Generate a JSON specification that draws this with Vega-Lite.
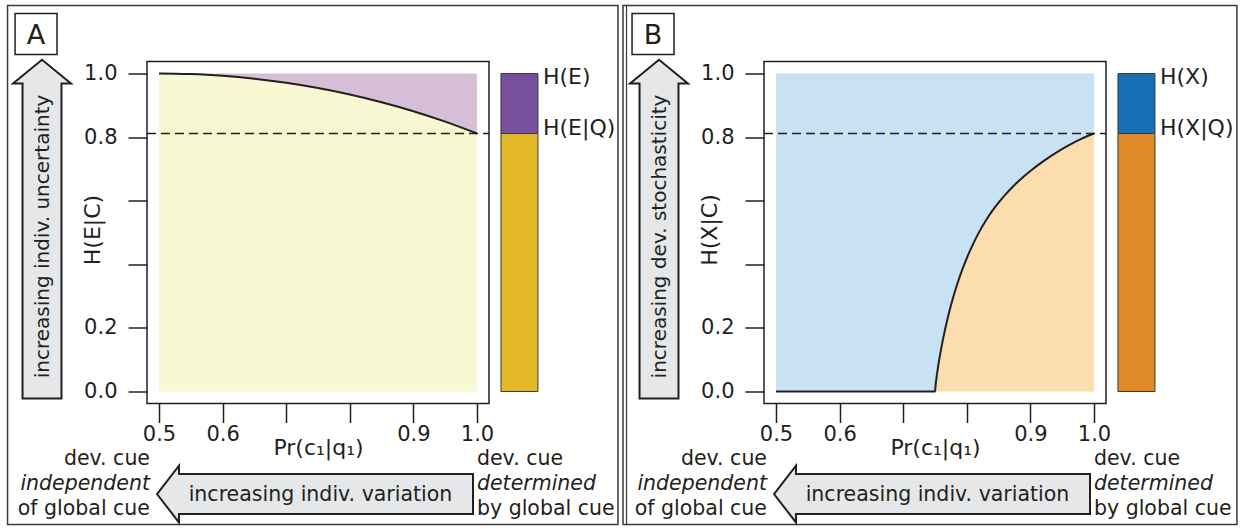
{
  "$schema": "https://vega.github.io/schema/vega-lite/v6.json",
  "background": "white",
  "padding": {"left": 6, "top": 3.5, "right": 0, "bottom": 0},
  "autosize": {"type": "pad"},
  "bounds": "flush",
  "spacing": 275,
  "datasets": {
    "curveA": [
      {"p": 0.5, "h": 1.0}, {"p": 0.525, "h": 0.9995}, {"p": 0.55, "h": 0.9982}, {"p": 0.575, "h": 0.9959},
      {"p": 0.6, "h": 0.9928}, {"p": 0.65, "h": 0.9837}, {"p": 0.7, "h": 0.971}, {"p": 0.75, "h": 0.9544},
      {"p": 0.8, "h": 0.9341}, {"p": 0.85, "h": 0.9097}, {"p": 0.9, "h": 0.8813}, {"p": 0.95, "h": 0.8485},
      {"p": 1.0, "h": 0.8113}
    ],
    "curveB": [
      {"p": 0.5, "h": 0}, {"p": 0.6, "h": 0}, {"p": 0.7, "h": 0}, {"p": 0.75, "h": 0},
      {"p": 0.751, "h": 0.0208}, {"p": 0.7525, "h": 0.0451}, {"p": 0.755, "h": 0.0798}, {"p": 0.7575, "h": 0.1103},
      {"p": 0.76, "h": 0.1381}, {"p": 0.765, "h": 0.1876}, {"p": 0.77, "h": 0.2312}, {"p": 0.775, "h": 0.2703},
      {"p": 0.78, "h": 0.3056}, {"p": 0.79, "h": 0.3674}, {"p": 0.8, "h": 0.4196}, {"p": 0.81, "h": 0.4644},
      {"p": 0.82, "h": 0.5035}, {"p": 0.83, "h": 0.5378}, {"p": 0.84, "h": 0.5678}, {"p": 0.85, "h": 0.594},
      {"p": 0.86, "h": 0.6174}, {"p": 0.875, "h": 0.6491}, {"p": 0.89, "h": 0.6769}, {"p": 0.9, "h": 0.6936},
      {"p": 0.92, "h": 0.7236}, {"p": 0.94, "h": 0.7503}, {"p": 0.96, "h": 0.774}, {"p": 0.98, "h": 0.7945},
      {"p": 1.0, "h": 0.8113}
    ],
    "one": [{}]
  },
  "hconcat": [
    {
      "width": 342,
      "height": 342,
      "layer": [
        {
          "data": {"name": "curveA"},
          "mark": {"type": "area", "color": "#F8F8D3", "interpolate": "monotone", "clip": false},
          "encoding": {
            "x": {"field": "p", "type": "quantitative", "scale": {"domain": [0.4811, 1.0189], "nice": false, "zero": false},
                  "axis": {"values": [0.5, 0.6, 0.7, 0.8, 0.9, 1.0], "labelExpr": "datum.value > 0.65 && datum.value < 0.85 ? '' : format(datum.value, '.1f')", "title": "Pr(c₁|q₁)"}},
            "y": {"field": "h", "type": "quantitative", "scale": {"domain": [-0.0377, 1.0377], "nice": false, "zero": false},
                  "axis": {"values": [0, 0.2, 0.4, 0.6, 0.8, 1.0], "labelExpr": "datum.value > 0.3 && datum.value < 0.7 ? '' : format(datum.value, '.1f')", "title": "H(E|C)"}},
            "y2": {"datum": 0}
          }
        },
        {
          "data": {"name": "curveA"},
          "mark": {"type": "area", "color": "#D7BED7", "interpolate": "monotone", "clip": false},
          "encoding": {"x": {"field": "p", "type": "quantitative"}, "y": {"field": "h", "type": "quantitative"}, "y2": {"datum": 1.0}}
        },
        {
          "data": {"name": "curveA"},
          "mark": {"type": "line", "color": "#231F20", "strokeWidth": 2, "interpolate": "monotone", "clip": false},
          "encoding": {"x": {"field": "p", "type": "quantitative"}, "y": {"field": "h", "type": "quantitative"}}
        },
        {
          "data": {"name": "one"},
          "mark": {"type": "rule", "color": "#231F20", "strokeWidth": 1.5, "strokeDash": [9, 5], "clip": false},
          "encoding": {"x": {"datum": 0.4811}, "x2": {"datum": 1.0189}, "y": {"datum": 0.8113}}
        },
        {
          "data": {"name": "one"},
          "mark": {"type": "rect", "color": "#E2B828", "stroke": "#3A3A3A", "strokeWidth": 1, "clip": false},
          "encoding": {"x": {"datum": 1.0377}, "x2": {"datum": 1.0959}, "y": {"datum": 0}, "y2": {"datum": 0.8113}}
        },
        {
          "data": {"name": "one"},
          "mark": {"type": "rect", "color": "#784F9D", "stroke": "#3A3A3A", "strokeWidth": 1, "clip": false},
          "encoding": {"x": {"datum": 1.0377}, "x2": {"datum": 1.0959}, "y": {"datum": 0.8113}, "y2": {"datum": 1.0}}
        },
        {
          "data": {"name": "one"},
          "mark": {"type": "text", "text": "H(E)", "align": "left", "baseline": "alphabetic", "fontSize": 22, "clip": false},
          "encoding": {"x": {"datum": 1.1038}, "y": {"datum": 0.9685}}
        },
        {
          "data": {"name": "one"},
          "mark": {"type": "text", "text": "H(E|Q)", "align": "left", "baseline": "alphabetic", "fontSize": 22, "clip": false},
          "encoding": {"x": {"datum": 1.1038}, "y": {"datum": 0.8081}}
        },
        {
          "data": {"name": "one"},
          "mark": {"type": "point", "shape": "M0,-1 L0.171,-0.86 L0.115,-0.86 L0.115,1 L-0.115,1 L-0.115,-0.86 L-0.171,-0.86 Z", "size": 114718, "filled": true, "fill": "#E6E7E8", "stroke": "#231F20", "strokeWidth": 2, "opacity": 1, "clip": false},
          "encoding": {"x": {"datum": 0.316}, "y": {"datum": 0.5105}}
        },
        {
          "data": {"name": "one"},
          "mark": {"type": "text", "text": "increasing indiv. uncertainty", "angle": 270, "align": "center", "baseline": "middle", "fontSize": 20, "clip": false},
          "encoding": {"x": {"datum": 0.3172}, "y": {"datum": 0.4874}}
        },
        {
          "data": {"name": "one"},
          "mark": {"type": "point", "shape": "M-1,0 L-0.861,-0.18 L-0.861,-0.127 L1,-0.127 L1,0.127 L-0.861,0.127 L-0.861,0.18 Z", "size": 99856, "filled": true, "fill": "#E6E7E8", "stroke": "#231F20", "strokeWidth": 2, "opacity": 1, "clip": false},
          "encoding": {"x": {"datum": 0.7453}, "y": {"datum": -0.3224}}
        },
        {
          "data": {"name": "one"},
          "mark": {"type": "text", "text": "increasing indiv. variation", "align": "center", "baseline": "alphabetic", "fontSize": 20.5, "clip": false},
          "encoding": {"x": {"datum": 0.7539}, "y": {"datum": -0.3428}}
        },
        {
          "data": {"name": "one"},
          "mark": {"type": "rect", "color": "white", "stroke": "#231F20", "strokeWidth": 1.5, "clip": false},
          "encoding": {"x": {"datum": 0.2736}, "x2": {"datum": 0.3396}, "y": {"datum": 1.0597}, "y2": {"datum": 1.1887}}
        },
        {
          "data": {"name": "one"},
          "mark": {"type": "text", "text": "A", "align": "center", "baseline": "middle", "fontSize": 27, "clip": false},
          "encoding": {"x": {"datum": 0.3066}, "y": {"datum": 1.1187}}
        },
        {
          "data": {"name": "one"},
          "mark": {"type": "text", "text": "dev. cue", "align": "right", "baseline": "alphabetic", "fontSize": 20.5, "clip": false},
          "encoding": {"x": {"datum": 0.4858}, "y": {"datum": -0.2296}}
        },
        {
          "data": {"name": "one"},
          "mark": {"type": "text", "text": "independent", "align": "right", "baseline": "alphabetic", "fontSize": 20.5, "fontStyle": "italic", "clip": false},
          "encoding": {"x": {"datum": 0.4858}, "y": {"datum": -0.3082}}
        },
        {
          "data": {"name": "one"},
          "mark": {"type": "text", "text": "of global cue", "align": "right", "baseline": "alphabetic", "fontSize": 20.5, "clip": false},
          "encoding": {"x": {"datum": 0.4858}, "y": {"datum": -0.3868}}
        },
        {
          "data": {"name": "one"},
          "mark": {"type": "text", "text": "dev. cue", "align": "left", "baseline": "alphabetic", "fontSize": 20.5, "clip": false},
          "encoding": {"x": {"datum": 1.0}, "y": {"datum": -0.2296}}
        },
        {
          "data": {"name": "one"},
          "mark": {"type": "text", "text": "determined", "align": "left", "baseline": "alphabetic", "fontSize": 20.5, "fontStyle": "italic", "clip": false},
          "encoding": {"x": {"datum": 1.0}, "y": {"datum": -0.3082}}
        },
        {
          "data": {"name": "one"},
          "mark": {"type": "text", "text": "by global cue", "align": "left", "baseline": "alphabetic", "fontSize": 20.5, "clip": false},
          "encoding": {"x": {"datum": 1.0}, "y": {"datum": -0.3868}}
        },
        {
          "data": {"name": "one"},
          "mark": {"type": "rect", "filled": false, "stroke": "#3A3A3A", "strokeWidth": 1.5, "clip": false},
          "encoding": {"x": {"datum": 0.2618}, "x2": {"datum": 1.2217}, "y": {"datum": -0.4183}, "y2": {"datum": 1.2138}}
        }
      ]
    },
    {
      "width": 342,
      "height": 342,
      "layer": [
        {
          "data": {"name": "curveB"},
          "mark": {"type": "area", "color": "#C8E1F3", "interpolate": "monotone", "clip": false},
          "encoding": {
            "x": {"field": "p", "type": "quantitative", "scale": {"domain": [0.4811, 1.0189], "nice": false, "zero": false},
                  "axis": {"values": [0.5, 0.6, 0.7, 0.8, 0.9, 1.0], "labelExpr": "datum.value > 0.65 && datum.value < 0.85 ? '' : format(datum.value, '.1f')", "title": "Pr(c₁|q₁)"}},
            "y": {"field": "h", "type": "quantitative", "scale": {"domain": [-0.0377, 1.0377], "nice": false, "zero": false},
                  "axis": {"values": [0, 0.2, 0.4, 0.6, 0.8, 1.0], "labelExpr": "datum.value > 0.3 && datum.value < 0.7 ? '' : format(datum.value, '.1f')", "title": "H(X|C)"}},
            "y2": {"datum": 1.0}
          }
        },
        {
          "data": {"name": "curveB"},
          "mark": {"type": "area", "color": "#FCDDAE", "interpolate": "monotone", "clip": false},
          "encoding": {"x": {"field": "p", "type": "quantitative"}, "y": {"field": "h", "type": "quantitative"}, "y2": {"datum": 0}}
        },
        {
          "data": {"name": "curveB"},
          "mark": {"type": "line", "color": "#231F20", "strokeWidth": 2, "interpolate": "monotone", "clip": false},
          "encoding": {"x": {"field": "p", "type": "quantitative"}, "y": {"field": "h", "type": "quantitative"}}
        },
        {
          "data": {"name": "one"},
          "mark": {"type": "rule", "color": "#231F20", "strokeWidth": 1.5, "strokeDash": [9, 5], "clip": false},
          "encoding": {"x": {"datum": 0.4811}, "x2": {"datum": 1.0189}, "y": {"datum": 0.8113}}
        },
        {
          "data": {"name": "one"},
          "mark": {"type": "rect", "color": "#E18B28", "stroke": "#3A3A3A", "strokeWidth": 1, "clip": false},
          "encoding": {"x": {"datum": 1.0377}, "x2": {"datum": 1.0959}, "y": {"datum": 0}, "y2": {"datum": 0.8113}}
        },
        {
          "data": {"name": "one"},
          "mark": {"type": "rect", "color": "#1670B8", "stroke": "#3A3A3A", "strokeWidth": 1, "clip": false},
          "encoding": {"x": {"datum": 1.0377}, "x2": {"datum": 1.0959}, "y": {"datum": 0.8113}, "y2": {"datum": 1.0}}
        },
        {
          "data": {"name": "one"},
          "mark": {"type": "text", "text": "H(X)", "align": "left", "baseline": "alphabetic", "fontSize": 22, "clip": false},
          "encoding": {"x": {"datum": 1.1038}, "y": {"datum": 0.9685}}
        },
        {
          "data": {"name": "one"},
          "mark": {"type": "text", "text": "H(X|Q)", "align": "left", "baseline": "alphabetic", "fontSize": 22, "clip": false},
          "encoding": {"x": {"datum": 1.1038}, "y": {"datum": 0.8081}}
        },
        {
          "data": {"name": "one"},
          "mark": {"type": "point", "shape": "M0,-1 L0.171,-0.86 L0.115,-0.86 L0.115,1 L-0.115,1 L-0.115,-0.86 L-0.171,-0.86 Z", "size": 114718, "filled": true, "fill": "#E6E7E8", "stroke": "#231F20", "strokeWidth": 2, "opacity": 1, "clip": false},
          "encoding": {"x": {"datum": 0.316}, "y": {"datum": 0.5105}}
        },
        {
          "data": {"name": "one"},
          "mark": {"type": "text", "text": "increasing dev. stochasticity", "angle": 270, "align": "center", "baseline": "middle", "fontSize": 20, "clip": false},
          "encoding": {"x": {"datum": 0.3172}, "y": {"datum": 0.4874}}
        },
        {
          "data": {"name": "one"},
          "mark": {"type": "point", "shape": "M-1,0 L-0.861,-0.18 L-0.861,-0.127 L1,-0.127 L1,0.127 L-0.861,0.127 L-0.861,0.18 Z", "size": 99856, "filled": true, "fill": "#E6E7E8", "stroke": "#231F20", "strokeWidth": 2, "opacity": 1, "clip": false},
          "encoding": {"x": {"datum": 0.7453}, "y": {"datum": -0.3224}}
        },
        {
          "data": {"name": "one"},
          "mark": {"type": "text", "text": "increasing indiv. variation", "align": "center", "baseline": "alphabetic", "fontSize": 20.5, "clip": false},
          "encoding": {"x": {"datum": 0.7539}, "y": {"datum": -0.3428}}
        },
        {
          "data": {"name": "one"},
          "mark": {"type": "rect", "color": "white", "stroke": "#231F20", "strokeWidth": 1.5, "clip": false},
          "encoding": {"x": {"datum": 0.2736}, "x2": {"datum": 0.3396}, "y": {"datum": 1.0597}, "y2": {"datum": 1.1887}}
        },
        {
          "data": {"name": "one"},
          "mark": {"type": "text", "text": "B", "align": "center", "baseline": "middle", "fontSize": 27, "clip": false},
          "encoding": {"x": {"datum": 0.3066}, "y": {"datum": 1.1187}}
        },
        {
          "data": {"name": "one"},
          "mark": {"type": "text", "text": "dev. cue", "align": "right", "baseline": "alphabetic", "fontSize": 20.5, "clip": false},
          "encoding": {"x": {"datum": 0.4858}, "y": {"datum": -0.2296}}
        },
        {
          "data": {"name": "one"},
          "mark": {"type": "text", "text": "independent", "align": "right", "baseline": "alphabetic", "fontSize": 20.5, "fontStyle": "italic", "clip": false},
          "encoding": {"x": {"datum": 0.4858}, "y": {"datum": -0.3082}}
        },
        {
          "data": {"name": "one"},
          "mark": {"type": "text", "text": "of global cue", "align": "right", "baseline": "alphabetic", "fontSize": 20.5, "clip": false},
          "encoding": {"x": {"datum": 0.4858}, "y": {"datum": -0.3868}}
        },
        {
          "data": {"name": "one"},
          "mark": {"type": "text", "text": "dev. cue", "align": "left", "baseline": "alphabetic", "fontSize": 20.5, "clip": false},
          "encoding": {"x": {"datum": 1.0}, "y": {"datum": -0.2296}}
        },
        {
          "data": {"name": "one"},
          "mark": {"type": "text", "text": "determined", "align": "left", "baseline": "alphabetic", "fontSize": 20.5, "fontStyle": "italic", "clip": false},
          "encoding": {"x": {"datum": 1.0}, "y": {"datum": -0.3082}}
        },
        {
          "data": {"name": "one"},
          "mark": {"type": "text", "text": "by global cue", "align": "left", "baseline": "alphabetic", "fontSize": 20.5, "clip": false},
          "encoding": {"x": {"datum": 1.0}, "y": {"datum": -0.3868}}
        },
        {
          "data": {"name": "one"},
          "mark": {"type": "rule", "color": "#3A3A3A", "strokeWidth": 1.2, "clip": false},
          "encoding": {"x": {"datum": 0.2649}, "y": {"datum": -0.4183}, "y2": {"datum": 1.2138}}
        },
        {
          "data": {"name": "one"},
          "mark": {"type": "rect", "filled": false, "stroke": "#3A3A3A", "strokeWidth": 1.5, "clip": false},
          "encoding": {"x": {"datum": 0.2594}, "x2": {"datum": 1.2248}, "y": {"datum": -0.4183}, "y2": {"datum": 1.2138}}
        }
      ]
    }
  ],
  "config": {
    "font": "DejaVu Sans",
    "view": {"stroke": "#231F20", "strokeWidth": 1.5},
    "text": {"font": "DejaVu Sans", "color": "#231F20"},
    "axis": {
      "domain": false, "grid": false, "ticks": true, "tickSize": 19, "tickColor": "#231F20", "tickWidth": 1.5,
      "labelFont": "DejaVu Sans", "labelFontSize": 21, "labelColor": "#231F20", "labelFlush": false, "labelOverlap": false,
      "titleFont": "DejaVu Sans", "titleFontSize": 22, "titleFontWeight": "normal", "titleColor": "#231F20"
    },
    "axisX": {"labelPadding": 1, "titleBaseline": "alphabetic", "titleY": 51},
    "axisY": {"labelPadding": 11, "titleX": -55, "titleY": 168, "titleBaseline": "middle", "titleAngle": 270}
  }
}
